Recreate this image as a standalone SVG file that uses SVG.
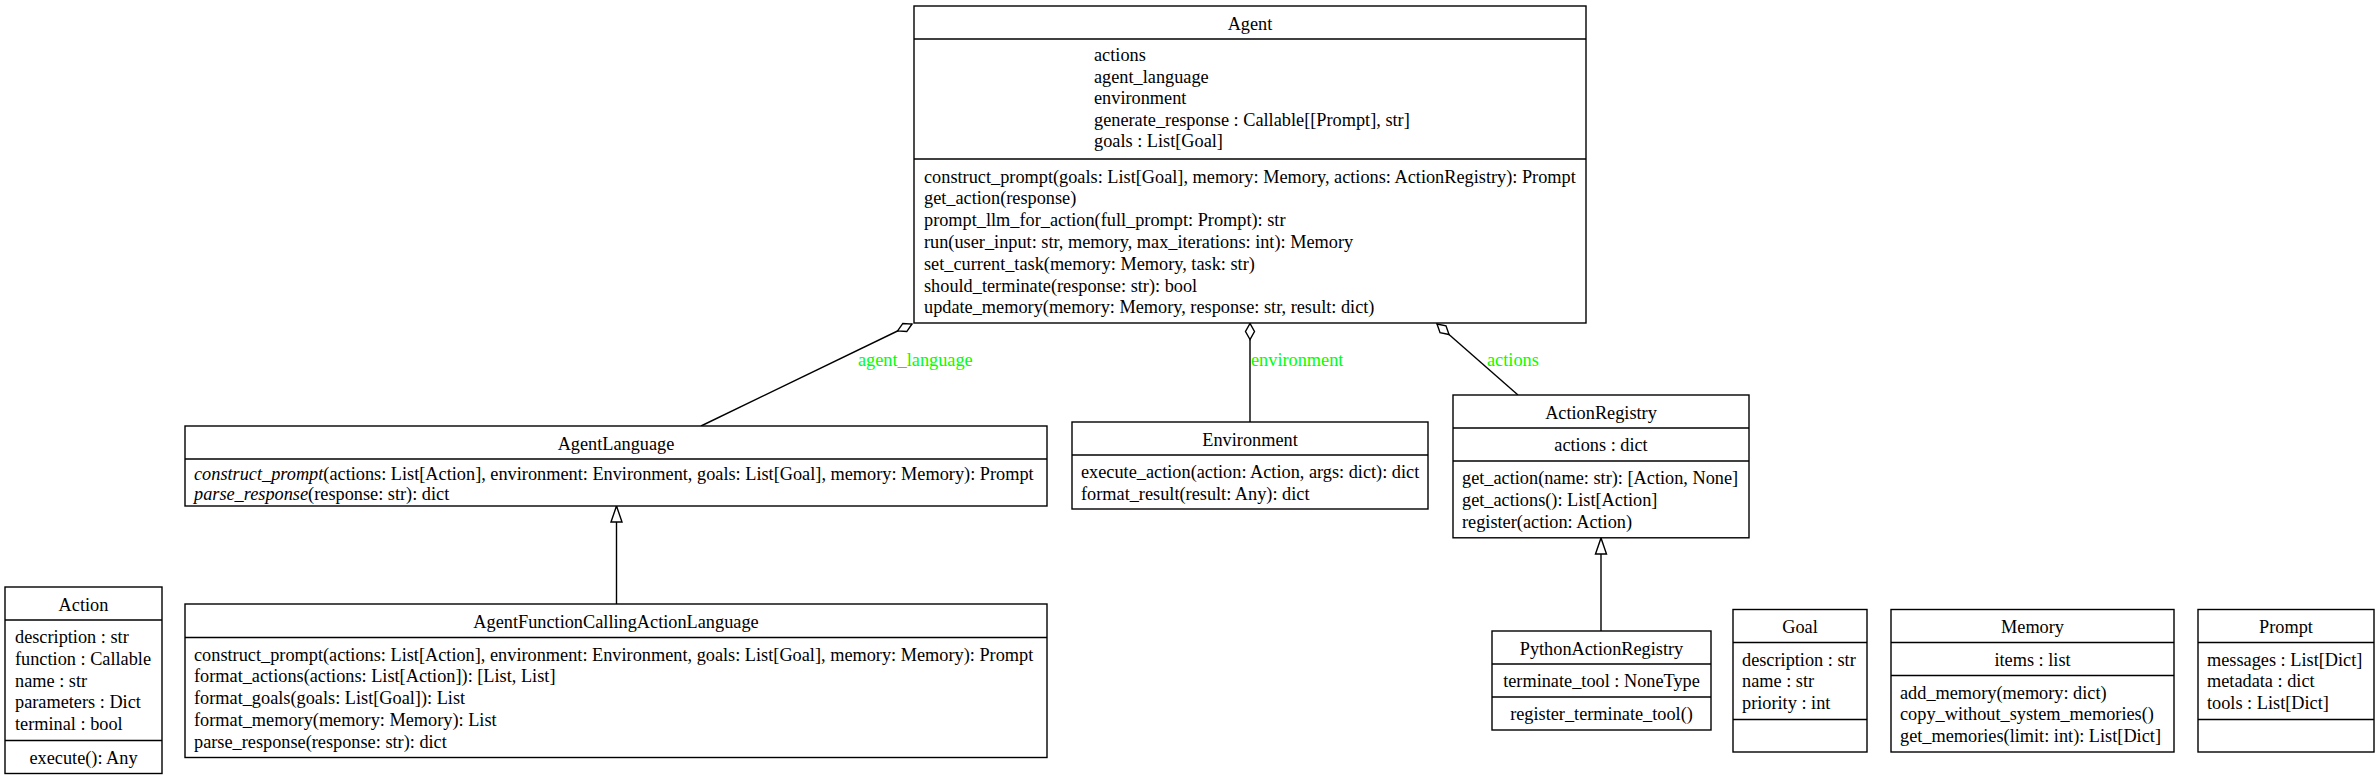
<svg xmlns="http://www.w3.org/2000/svg" width="2380" height="780" viewBox="0 0 2380 780">
<defs>
<style>
text{font-family:"Liberation Serif","Times New Roman",serif;font-size:18.3px;fill:#000}
.c{text-anchor:middle}
.box{fill:#fff;stroke:#000;stroke-width:1.4}
.sep{stroke:#000;stroke-width:1.4}
.edge{fill:none;stroke:#000;stroke-width:1.4}
.lbl{fill:#00ff00}
.it{font-style:italic}
</style>
<marker id="diamond" markerUnits="userSpaceOnUse" viewBox="-1 -1 18 11" markerWidth="18" markerHeight="11" refX="16" refY="4.5" orient="auto" overflow="visible">
<path d="M0,4.5 L8,0 L16,4.5 L8,9 Z" fill="#fff" stroke="#000" stroke-width="1.4"/>
</marker>
<marker id="tri" markerUnits="userSpaceOnUse" viewBox="-1 -1 18 13" markerWidth="18" markerHeight="13" refX="16" refY="5.5" orient="auto" overflow="visible">
<path d="M0,0 L16,5.5 L0,11 Z" fill="#fff" stroke="#000" stroke-width="1.4"/>
</marker>
</defs>
<rect width="2380" height="780" fill="#fff"/>

<g id="connectors">
<path class="edge" d="M701,426 L912,324" marker-end="url(#diamond)"/>
<text class="lbl" x="858" y="366">agent_language</text>
<path class="edge" d="M1250,422 L1250,323.5" marker-end="url(#diamond)"/>
<text class="lbl" x="1251" y="366">environment</text>
<path class="edge" d="M1518,395 L1437,324" marker-end="url(#diamond)"/>
<text class="lbl" x="1487" y="366">actions</text>
<path class="edge" d="M616.5,604 L616.5,506" marker-end="url(#tri)"/>
<path class="edge" d="M1601,631 L1601,538" marker-end="url(#tri)"/>
</g>

<g id="Agent">
<rect class="box" x="914" y="6" width="672" height="317"/>
<line class="sep" x1="914" y1="39" x2="1586" y2="39"/>
<line class="sep" x1="914" y1="159" x2="1586" y2="159"/>
<text class="c" x="1250" y="29.5">Agent</text>
<text x="1094" y="61">actions</text>
<text x="1094" y="82.5">agent_language</text>
<text x="1094" y="104">environment</text>
<text x="1094" y="125.5">generate_response : Callable[[Prompt], str]</text>
<text x="1094" y="147">goals : List[Goal]</text>
<text x="924" y="182.5">construct_prompt(goals: List[Goal], memory: Memory, actions: ActionRegistry): Prompt</text>
<text x="924" y="204.3">get_action(response)</text>
<text x="924" y="226.1">prompt_llm_for_action(full_prompt: Prompt): str</text>
<text x="924" y="247.9">run(user_input: str, memory, max_iterations: int): Memory</text>
<text x="924" y="269.7">set_current_task(memory: Memory, task: str)</text>
<text x="924" y="291.5">should_terminate(response: str): bool</text>
<text x="924" y="313.3">update_memory(memory: Memory, response: str, result: dict)</text>
</g>

<g id="AgentLanguage">
<rect class="box" x="185" y="426" width="862" height="80"/>
<line class="sep" x1="185" y1="459" x2="1047" y2="459"/>
<text class="c" x="616" y="449.5">AgentLanguage</text>
<text x="194" y="480"><tspan class="it">construct_prompt</tspan>(actions: List[Action], environment: Environment, goals: List[Goal], memory: Memory): Prompt</text>
<text x="194" y="500"><tspan class="it">parse_response</tspan>(response: str): dict</text>
</g>

<g id="AgentFunctionCallingActionLanguage">
<rect class="box" x="185" y="604" width="862" height="153.5"/>
<line class="sep" x1="185" y1="637.5" x2="1047" y2="637.5"/>
<text class="c" x="616" y="627.5">AgentFunctionCallingActionLanguage</text>
<text x="194" y="660.5">construct_prompt(actions: List[Action], environment: Environment, goals: List[Goal], memory: Memory): Prompt</text>
<text x="194" y="682.3">format_actions(actions: List[Action]): [List, List]</text>
<text x="194" y="704.1">format_goals(goals: List[Goal]): List</text>
<text x="194" y="725.9">format_memory(memory: Memory): List</text>
<text x="194" y="747.7">parse_response(response: str): dict</text>
</g>

<g id="Action">
<rect class="box" x="5" y="587" width="157" height="186.5"/>
<line class="sep" x1="5" y1="620" x2="162" y2="620"/>
<line class="sep" x1="5" y1="740.5" x2="162" y2="740.5"/>
<text class="c" x="83.5" y="610.5">Action</text>
<text x="15" y="643">description : str</text>
<text x="15" y="664.8">function : Callable</text>
<text x="15" y="686.6">name : str</text>
<text x="15" y="708.4">parameters : Dict</text>
<text x="15" y="730.2">terminal : bool</text>
<text class="c" x="83.5" y="763.5">execute(): Any</text>
</g>

<g id="Environment">
<rect class="box" x="1072" y="422" width="356" height="87"/>
<line class="sep" x1="1072" y1="455" x2="1428" y2="455"/>
<text class="c" x="1250" y="445.5">Environment</text>
<text x="1081" y="478">execute_action(action: Action, args: dict): dict</text>
<text x="1081" y="499.8">format_result(result: Any): dict</text>
</g>

<g id="ActionRegistry">
<rect class="box" x="1453" y="395" width="296" height="142.8"/>
<line class="sep" x1="1453" y1="428" x2="1749" y2="428"/>
<line class="sep" x1="1453" y1="461" x2="1749" y2="461"/>
<text class="c" x="1601" y="418.5">ActionRegistry</text>
<text class="c" x="1601" y="451">actions : dict</text>
<text x="1462" y="484">get_action(name: str): [Action, None]</text>
<text x="1462" y="505.8">get_actions(): List[Action]</text>
<text x="1462" y="527.6">register(action: Action)</text>
</g>

<g id="PythonActionRegistry">
<rect class="box" x="1492" y="631" width="219" height="99"/>
<line class="sep" x1="1492" y1="664" x2="1711" y2="664"/>
<line class="sep" x1="1492" y1="697" x2="1711" y2="697"/>
<text class="c" x="1601.5" y="654.5">PythonActionRegistry</text>
<text class="c" x="1601.5" y="687">terminate_tool : NoneType</text>
<text class="c" x="1601.5" y="720">register_terminate_tool()</text>
</g>

<g id="Goal">
<rect class="box" x="1733" y="609.5" width="134" height="142.5"/>
<line class="sep" x1="1733" y1="642.5" x2="1867" y2="642.5"/>
<line class="sep" x1="1733" y1="719.5" x2="1867" y2="719.5"/>
<text class="c" x="1800" y="633">Goal</text>
<text x="1742" y="665.5">description : str</text>
<text x="1742" y="687.3">name : str</text>
<text x="1742" y="709.1">priority : int</text>
</g>

<g id="Memory">
<rect class="box" x="1891" y="609.5" width="283" height="142.5"/>
<line class="sep" x1="1891" y1="642.5" x2="2174" y2="642.5"/>
<line class="sep" x1="1891" y1="675.5" x2="2174" y2="675.5"/>
<text class="c" x="2032.5" y="633">Memory</text>
<text class="c" x="2032.5" y="665.5">items : list</text>
<text x="1900" y="698.5">add_memory(memory: dict)</text>
<text x="1900" y="720.3">copy_without_system_memories()</text>
<text x="1900" y="742.1">get_memories(limit: int): List[Dict]</text>
</g>

<g id="Prompt">
<rect class="box" x="2198" y="609.5" width="176" height="142.5"/>
<line class="sep" x1="2198" y1="642.5" x2="2374" y2="642.5"/>
<line class="sep" x1="2198" y1="719.5" x2="2374" y2="719.5"/>
<text class="c" x="2286" y="633">Prompt</text>
<text x="2207" y="665.5">messages : List[Dict]</text>
<text x="2207" y="687.3">metadata : dict</text>
<text x="2207" y="709.1">tools : List[Dict]</text>
</g>
</svg>
